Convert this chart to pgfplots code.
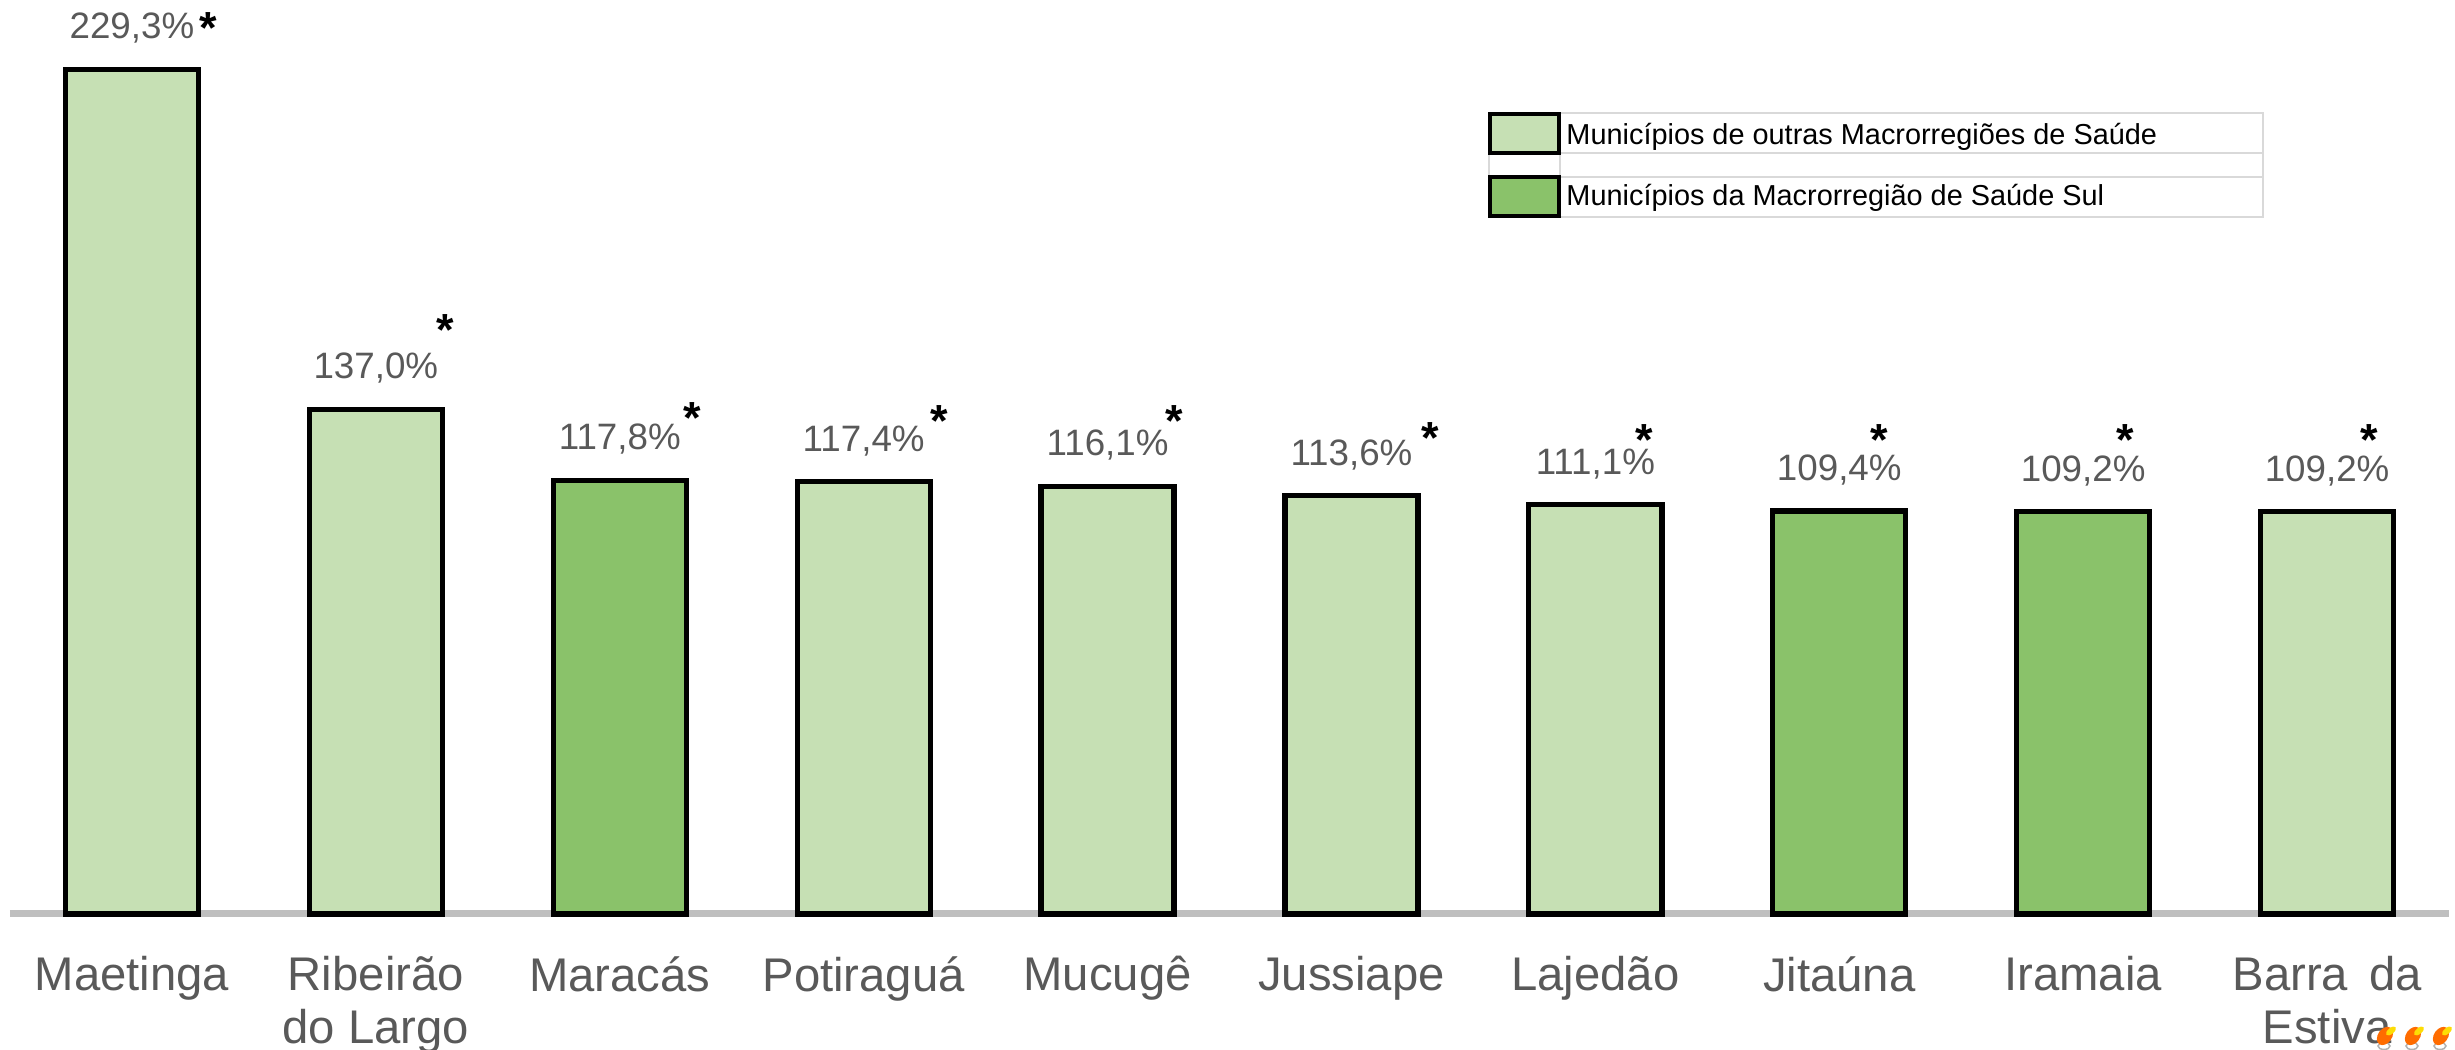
\documentclass[border=0pt]{standalone}
\usepackage{pgfplots}
\pgfplotsset{compat=1.18}
\usepackage{fontspec}
\setmainfont{Liberation Sans}
\definecolor{lightg}{HTML}{C6E0B4}
\definecolor{darkg}{HTML}{8AC26A}
\definecolor{lab}{HTML}{595959}
\definecolor{axisg}{HTML}{BFBFBF}
\definecolor{tabg}{HTML}{D9D9D9}
\begin{document}
\begin{tikzpicture}
\useasboundingbox (0,0) rectangle (982pt,420pt);
\begin{axis}[
  at={(4pt,54.4pt)}, anchor=south west,
  scale only axis, width=975.6pt, height=365.6pt,
  xmin=-0.5, xmax=9.5, ymin=0, ymax=248.17,
  axis x line=bottom, axis y line=none,
  x axis line style={-, draw=axisg, line width=2.8pt},
  xtick={0,...,9}, major tick length=0pt,
  xticklabels={Maetinga,{Ribeirão\\do Largo},Maracás,Potiraguá,Mucugê,Jussiape,Lajedão,Jitaúna,Iramaia,{Barra\ \,da\\Estiva}},
  xticklabel style={align=center, text=lab, font=\fontsize{18.9}{21.2}\selectfont, anchor=north, yshift=-13.4pt},
  ybar, bar width=53.2pt, bar shift=0pt,
  clip=false,
  /pgf/number format/assume math mode=true,
  nodes near coords={\pgfmathprintnumber[fixed,fixed zerofill,precision=1,use comma]{\pgfplotspointmeta}\%},
  every node near coord/.append style={anchor=base, text=lab, font=\fontsize{14.7}{17}\selectfont, yshift=12.2pt, inner sep=0pt},
]
\addplot[draw=black, line width=2.1pt, fill=lightg] coordinates {(0,229.3) (1,137.0) (3,117.4) (4,116.1) (5,113.6) (6,111.1) (9,109.2)};
\addplot[draw=black, line width=2.1pt, fill=darkg] coordinates {(2,117.8) (7,109.4) (8,109.2)};
\end{axis}
\begin{scope}[x=0.4pt,y=-0.4pt,yshift=420pt]
% asterisks
\foreach \x/\y in {208/22,445/324,692/412,939/415,1174/415,1430/432,1644/434,1879/434,2125/434,2369/434}
  \node[anchor=base, inner sep=0pt, font=\bfseries\fontsize{18}{20}\selectfont] at (\x,\y+22) {*};
% legend table
\draw[tabg, line width=0.8pt] (1489,113) rectangle (2263,217);
\draw[tabg, line width=0.8pt] (1489,153) -- (2263,153) (1489,177) -- (2263,177);
\draw[tabg, line width=0.8pt] (1560,113) -- (1560,217);
\draw[black, line width=1.4pt, fill=lightg] (1490,114) rectangle (1559,153);
\draw[black, line width=1.4pt, fill=darkg] (1490,177) rectangle (1559,216);
\node[anchor=base west, inner sep=0pt, font=\fontsize{11.55}{14}\selectfont] at (1566,145) {Municípios de outras Macrorregiões de Saúde};
\node[anchor=base west, inner sep=0pt, font=\fontsize{11.55}{14}\selectfont] at (1566,206) {Municípios da Macrorregião de Saúde Sul};
% small flame icons
\foreach \x in {2385,2413,2441}{
  \draw[gray!60, line width=0.6pt, fill=white] (\x-1,1046) ellipse (6 and 3.5);
  \fill[orange!85!red, rotate around={-35:(\x,1036)}] (\x,1036) ellipse (7 and 10);
  \fill[yellow!80!orange, rotate around={-50:(\x+6,1031)}] (\x+6,1031) ellipse (3 and 6);
}
\end{scope}
\end{tikzpicture}
\end{document}
